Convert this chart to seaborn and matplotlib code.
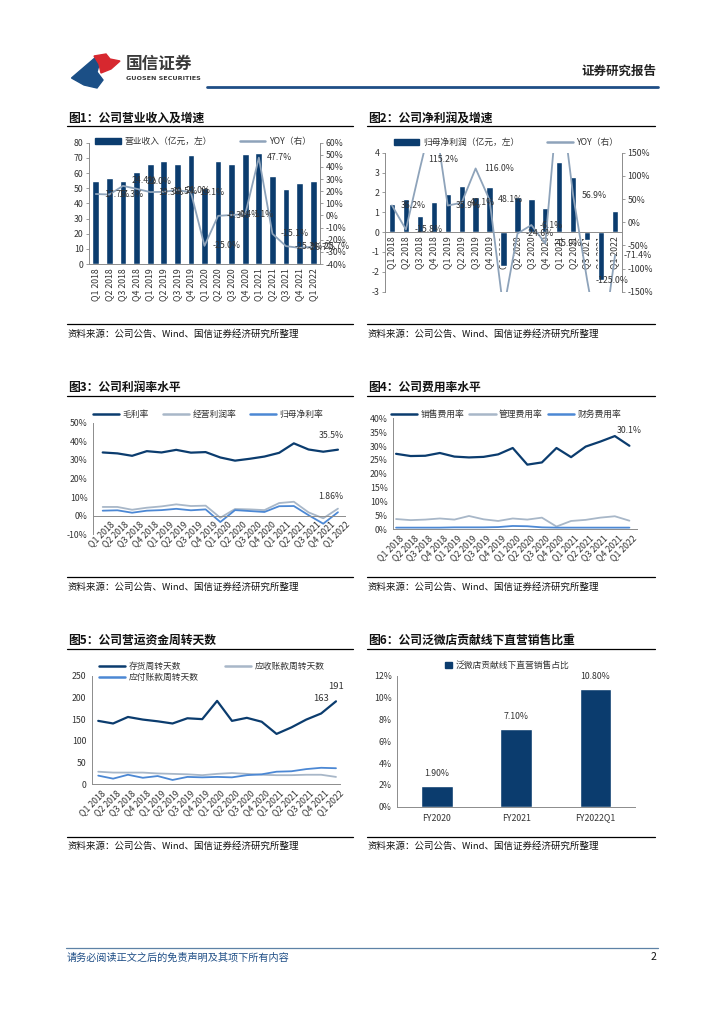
import numpy as np
import pandas as pd
import matplotlib
matplotlib.use("Agg")
import matplotlib.pyplot as plt
import seaborn as sns
from matplotlib.patches import Patch, Polygon
from matplotlib.lines import Line2D
from matplotlib.transforms import ScaledTranslation

# ---------------- data ----------------
quarters = ["Q1 2018", "Q2 2018", "Q3 2018", "Q4 2018", "Q1 2019", "Q2 2019", "Q3 2019", "Q4 2019",
            "Q1 2020", "Q2 2020", "Q3 2020", "Q4 2020", "Q1 2021", "Q2 2021", "Q3 2021", "Q4 2021", "Q1 2022"]
revenue = [55, 57, 54.5, 60.5, 66, 67.8, 66, 71.7, 50, 67.8, 66, 72.5, 73, 58, 49.5, 53.5, 55]
revenue_yoy = [17.7, 17.3, 24.4, 22.0, 19.3, 19.5, 21.0, 19.1, -25.0, -0.3, 0.4, 1.1, 47.7, -15.1,
               -25.3, -26.7, -25.7]
net_profit = [1.43, 1.67, 0.82, 1.52, 1.92, 2.33, 1.78, 2.28, -1.72, 1.77, 1.66, 1.24, 3.55, 2.80,
              -0.38, -2.43, 1.04]
profit_yoy = [36.2, -15.8, 115.2, 240.0, 35.9, 42.1, 116.0, 48.1, -190.0, -24.6, -6.1, -45.9, 300.0,
              56.9, -125.0, -290.0, -71.4]
gross_margin = [34.0, 33.5, 32.2, 34.7, 34.0, 35.4, 33.9, 34.2, 31.3, 29.6, 30.6, 31.8, 33.8, 38.9,
                35.6, 34.4, 35.5]
operating_margin = [4.7, 4.7, 3.2, 4.3, 5.0, 6.1, 5.2, 5.4, -1.1, 3.6, 3.4, 3.0, 6.8, 7.5, 1.8, -1.4, 3.8]
net_margin = [2.7, 2.9, 1.6, 2.7, 3.0, 3.7, 2.9, 3.4, -3.4, 3.0, 2.5, 2.0, 5.1, 5.2, 0.3, -4.3, 1.86]
sales_exp_ratio = [27.2, 26.4, 26.5, 27.5, 26.2, 25.9, 26.1, 27.0, 29.3, 23.3, 24.1, 29.3, 26.0, 29.8,
                   31.6, 33.6, 30.1]
admin_exp_ratio = [3.7, 3.3, 3.5, 3.9, 3.5, 4.8, 3.6, 3.0, 3.9, 3.5, 4.2, 1.0, 3.0, 3.4, 4.2, 4.7, 3.1]
fin_exp_ratio = [0.6, 0.6, 0.6, 0.6, 0.7, 0.7, 0.7, 0.8, 1.2, 1.1, 0.7, 0.6, 0.6, 0.6, 0.6, 0.6, 0.6]
inventory_days = [146, 140, 155, 149, 145, 140, 152, 150, 192, 146, 153, 144, 116, 131, 149, 163, 191]
receivable_days = [29, 27, 27, 27, 25, 24, 23, 21, 24, 26, 24, 22, 21, 21, 22, 22, 17]
payable_days = [20, 13, 22, 15, 19, 10, 17, 16, 17, 16, 21, 23, 29, 30, 35, 38, 37]
fy_labels = ["FY2020", "FY2021", "FY2022Q1"]
store_share = [1.9, 7.1, 10.8]

# ---------------- style ----------------
sns.set_theme(style="white")
plt.rcParams['font.family'] = ['Noto Sans CJK SC', 'DejaVu Sans']
plt.rcParams['axes.unicode_minus'] = False

NAVY = "#0B3C6E"
GREYBLUE = "#8EA3BA"
LIGHTGREY = "#A8B7C8"
MIDBLUE = "#4C88D4"
TXT = "#333333"
SPINE = "#8C8C8C"
FS = 6.3

W, H = 724, 1024
fig = plt.figure(figsize=(W / 100, H / 100), dpi=100)
fig.patch.set_facecolor("white")


def rect(l, t, r, b):
    return [l / W, 1 - b / H, (r - l) / W, (b - t) / H]


def ftext(x, y, s, **kw):
    kw.setdefault("va", "center")
    fig.text(x / W, 1 - y / H, s, **kw)


def hline(x0, x1, y, color="black", lw=0.8):
    fig.add_artist(Line2D([x0 / W, x1 / W], [1 - y / H, 1 - y / H], color=color, lw=lw,
                          transform=fig.transFigure))


def style_ax(ax):
    ax.tick_params(axis="both", labelsize=FS, color=SPINE, labelcolor=TXT, length=2, width=0.6, pad=2)
    for s in ax.spines.values():
        s.set_color(SPINE)
        s.set_linewidth(0.7)
    ax.spines["top"].set_visible(False)
    ax.spines["right"].set_visible(False)
    ax.grid(False)
    ax.set_xlabel("")
    ax.set_ylabel("")
    ax.set_facecolor("none")


def fig_legend(handles, labels, cx, cy, ncol, colsp=2.5, hl=3.0):
    fig.legend(handles, labels, loc="center", bbox_to_anchor=(cx / W, 1 - cy / H), ncol=ncol,
               frameon=False, fontsize=FS, handlelength=hl, handletextpad=0.4, columnspacing=colsp,
               labelcolor=TXT, borderpad=0, borderaxespad=0, labelspacing=0.2)


x = np.arange(len(quarters))

# ---------------- header ----------------
fig.add_artist(Polygon([[71.5 / W, 1 - 78 / H], [96 / W, 1 - 57 / H], [99 / W, 1 - 65 / H], [97 / W, 1 - 72 / H],
                        [103 / W, 1 - 80 / H], [97 / W, 1 - 88 / H], [84 / W, 1 - 85 / H]],
                       closed=True, color="#1B4F86", transform=fig.transFigure))
fig.add_artist(Polygon([[94 / W, 1 - 56 / H], [106 / W, 1 - 54 / H], [110 / W, 1 - 59 / H], [120 / W, 1 - 61 / H],
                        [111 / W, 1 - 69 / H], [101 / W, 1 - 73 / H], [99 / W, 1 - 64 / H]],
                       closed=True, color="#D7282F", transform=fig.transFigure))
ftext(126, 64, "国信证券", fontsize=12, fontweight="bold", color="#3A3A3A")
ftext(126, 79, "GUOSEN SECURITIES", fontsize=4.6, fontweight="bold", color="#3A3A3A",
      family=["DejaVu Sans"])
hline(207, 658, 87, color="#1F4E86", lw=2.0)
ftext(656, 71, "证券研究报告", fontsize=9, fontweight="bold", color="#222222", ha="right")

# titles & sources
for (x0, x1, ty, ly, t) in [(68, 353, 117.7, 125.7, "图1：公司营业收入及增速"),
                            (368, 655, 117.7, 125.7, "图2：公司净利润及增速"),
                            (68, 353, 387.7, 396, "图3：公司利润率水平"),
                            (368, 655, 387.7, 396, "图4：公司费用率水平"),
                            (68, 353, 640, 649, "图5：公司营运资金周转天数"),
                            (368, 655, 640, 649, "图6：公司泛微店贡献线下直营销售比重")]:
    ftext(x0, ty, t, fontsize=8.5, fontweight="bold", color="#111111")
    hline(x0 - 1, x1, ly, lw=0.9)
for (x0, x1, ly, sy) in [(68, 353, 324.3, 334.5), (368, 655, 324.3, 334.5),
                         (68, 353, 576.7, 586.7), (368, 655, 576.7, 586.7),
                         (68, 353, 836.7, 846), (368, 655, 836.7, 846)]:
    hline(x0 - 1, x1, ly, lw=0.9)
    ftext(x0, sy, "资料来源：公司公告、Wind、国信证券经济研究所整理", fontsize=6.8, color="#111111")

# footer
hline(66, 658, 948.3, color="#5E82A6", lw=0.9)
ftext(67, 957.5, "请务必阅读正文之后的免责声明及其项下所有内容", fontsize=7.3, color="#1F4E86", style="italic")
ftext(656, 957.5, "2", fontsize=7.5, color="#111111", ha="right")

# ---------------- chart 1 ----------------
ax1 = fig.add_axes(rect(89, 142.7, 320, 264))
sns.barplot(x=quarters, y=revenue, ax=ax1, color=NAVY, saturation=1, width=0.5)
ax1b = ax1.twinx()
sns.lineplot(x=x, y=revenue_yoy, ax=ax1b, color=GREYBLUE, lw=1.3)
ax1.set_xlim(-0.5, len(quarters) - 0.5)
ax1.set_ylim(0, 80)
ax1.set_yticks(range(0, 81, 10))
ax1b.set_ylim(-40, 60)
ax1b.set_yticks(range(-40, 61, 10))
ax1b.set_yticklabels([f"{v}%" for v in range(-40, 61, 10)])
style_ax(ax1)
style_ax(ax1b)
ax1b.spines["right"].set_visible(True)
ax1b.spines["left"].set_visible(False)
ax1b.spines["bottom"].set_visible(False)
ax1.set_xticks(x)
ax1.set_xticklabels(quarters, rotation=90)
ax1.tick_params(axis="x", length=0, pad=3)
ax1.set_xlabel("")
nudge1 = {2: (6, 4), 3: (7, 5)}
for i, v in enumerate(revenue_yoy):
    dx, dy = nudge1.get(i, (6, 0))
    ax1b.annotate(f"{v:.1f}%", (i, v), xytext=(dx, dy), textcoords="offset points", fontsize=FS,
                  ha="left", va="center", color=TXT)
fig_legend([Patch(color=NAVY), Line2D([], [], color=GREYBLUE, lw=1.8)],
           ["营业收入（亿元，左）", "YOY（右）"], 203, 141.5, 2, colsp=3.2, hl=2.9)

# ---------------- chart 2 ----------------
ax2 = fig.add_axes(rect(385, 152.7, 622, 291.7))
sns.barplot(x=quarters, y=net_profit, ax=ax2, color=NAVY, saturation=1, width=0.45)
ax2b = ax2.twinx()
sns.lineplot(x=x, y=profit_yoy, ax=ax2b, color=GREYBLUE, lw=1.3)
ax2.set_xlim(-0.5, len(quarters) - 0.5)
ax2.set_ylim(-3, 4)
ax2.set_yticks(range(-3, 5))
ax2b.set_ylim(-150, 150)
ax2b.set_yticks(range(-150, 151, 50))
ax2b.set_yticklabels([f"{v}%" for v in range(-150, 151, 50)])
style_ax(ax2)
style_ax(ax2b)
ax2b.spines["right"].set_visible(True)
ax2b.spines["left"].set_visible(False)
ax2b.spines["bottom"].set_visible(False)
ax2.spines["bottom"].set_position(("data", 0))
ax2.set_xticks(x)
ax2.set_xticklabels(quarters, rotation=90)
ax2.tick_params(axis="x", length=0, pad=3)
ax2.set_xlabel("")
nudge2 = {2: (6, 7)}
for i, v in enumerate(profit_yoy):
    if abs(v) > 150:
        continue
    dx, dy = nudge2.get(i, (6, 0))
    ax2b.annotate(f"{v:.1f}%", (i, v), xytext=(dx, dy), textcoords="offset points", fontsize=FS,
                  ha="left", va="center", color=TXT)
fig_legend([Patch(color=NAVY), Line2D([], [], color=GREYBLUE, lw=1.8)],
           ["归母净利润（亿元，左）", "YOY（右）"], 506, 142.7, 2, colsp=3.2, hl=2.9)

# ---------------- chart 3 ----------------
ax3 = fig.add_axes(rect(93.3, 422.7, 345, 534.3))
sns.lineplot(x=x, y=gross_margin, ax=ax3, color=NAVY, lw=1.6)
sns.lineplot(x=x, y=operating_margin, ax=ax3, color=LIGHTGREY, lw=1.3)
sns.lineplot(x=x, y=net_margin, ax=ax3, color=MIDBLUE, lw=1.3)
ax3.set_xlim(-0.64, 16.48)
ax3.set_ylim(-10, 50)
ax3.set_yticks(range(-10, 51, 10))
ax3.set_yticklabels([f"{v}%" for v in range(-10, 51, 10)])
style_ax(ax3)
ax3.spines["bottom"].set_position(("data", 0))
ax3.set_xticks(x)
ax3.set_xticklabels(quarters, rotation=45, ha="right", rotation_mode="anchor")
ax3.tick_params(axis="x", length=0, pad=3)
for lab in ax3.get_xticklabels():
    lab.set_transform(lab.get_transform() + ScaledTranslation(5 / 72, 0, fig.dpi_scale_trans))
ax3.set_xlabel("")
ax3.annotate(f"{gross_margin[-1]:.1f}%", (x[-1], gross_margin[-1]), xytext=(-5, 10),
             textcoords="offset points", fontsize=FS, ha="center", va="center", color=TXT)
ax3.annotate(f"{net_margin[-1]:.2f}%", (x[-1], net_margin[-1]), xytext=(-5, 11),
             textcoords="offset points", fontsize=FS, ha="center", va="center", color=TXT)
fig_legend([Line2D([], [], color=NAVY, lw=1.8), Line2D([], [], color=LIGHTGREY, lw=1.8),
            Line2D([], [], color=MIDBLUE, lw=1.8)],
           ["毛利率", "经营利润率", "归母净利率"], 208, 414.3, 3, colsp=1.6, hl=3.0)

# ---------------- chart 4 ----------------
ax4 = fig.add_axes(rect(393.3, 418.3, 636.7, 529.3))
sns.lineplot(x=x, y=sales_exp_ratio, ax=ax4, color=NAVY, lw=1.6)
sns.lineplot(x=x, y=admin_exp_ratio, ax=ax4, color=LIGHTGREY, lw=1.3)
sns.lineplot(x=x, y=fin_exp_ratio, ax=ax4, color=MIDBLUE, lw=1.3)
ax4.set_xlim(-0.19, 16.5)
ax4.set_ylim(0, 40)
ax4.set_yticks(range(0, 41, 5))
ax4.set_yticklabels([f"{v}%" for v in range(0, 41, 5)])
style_ax(ax4)
ax4.set_xticks(x)
ax4.set_xticklabels(quarters, rotation=45, ha="right", rotation_mode="anchor")
ax4.tick_params(axis="x", length=0, pad=3)
for lab in ax4.get_xticklabels():
    lab.set_transform(lab.get_transform() + ScaledTranslation(2 / 72, 0, fig.dpi_scale_trans))
ax4.set_xlabel("")
ax4.annotate(f"{sales_exp_ratio[-1]:.1f}%", (x[-1], sales_exp_ratio[-1]), xytext=(0, 11),
             textcoords="offset points", fontsize=FS, ha="center", va="center", color=TXT)
fig_legend([Line2D([], [], color=NAVY, lw=1.8), Line2D([], [], color=LIGHTGREY, lw=1.8),
            Line2D([], [], color=MIDBLUE, lw=1.8)],
           ["销售费用率", "管理费用率", "财务费用率"], 506, 414.3, 3, colsp=0.6, hl=3.0)

# ---------------- chart 5 ----------------
ax5 = fig.add_axes(rect(91.7, 675.7, 340, 784.3))
sns.lineplot(x=x, y=inventory_days, ax=ax5, color=NAVY, lw=1.6)
sns.lineplot(x=x, y=receivable_days, ax=ax5, color=LIGHTGREY, lw=1.3)
sns.lineplot(x=x, y=payable_days, ax=ax5, color=MIDBLUE, lw=1.3)
ax5.set_xlim(-0.44, 16.27)
ax5.set_ylim(0, 250)
ax5.set_yticks(range(0, 251, 50))
style_ax(ax5)
ax5.set_xticks(x)
ax5.set_xticklabels(quarters, rotation=45, ha="right", rotation_mode="anchor")
ax5.tick_params(axis="x", length=0, pad=3)
for lab in ax5.get_xticklabels():
    lab.set_transform(lab.get_transform() + ScaledTranslation(2 / 72, 0, fig.dpi_scale_trans))
ax5.set_xlabel("")
for i in (len(x) - 2, len(x) - 1):
    ax5.annotate(f"{inventory_days[i]}", (x[i], inventory_days[i]), xytext=(0, 11),
                 textcoords="offset points", fontsize=FS + 0.5, ha="center", va="center", color=TXT)
fig_legend([Line2D([], [], color=NAVY, lw=1.8), Line2D([], [], color=MIDBLUE, lw=1.8),
            Line2D([], [], color=LIGHTGREY, lw=1.8)],
           ["存货周转天数", "应付账款周转天数", "应收账款周转天数"], 212, 671.7, 2, colsp=3.0, hl=3.0)

# ---------------- chart 6 ----------------
ax6 = fig.add_axes(rect(397.3, 675.7, 635, 806.7))
sns.barplot(x=fy_labels, y=store_share, ax=ax6, color=NAVY, saturation=1, width=0.4)
ax6.set_xlim(-0.5, len(fy_labels) - 0.5)
ax6.set_ylim(0, 12)
ax6.set_yticks(range(0, 13, 2))
ax6.set_yticklabels([f"{v}%" for v in range(0, 13, 2)])
style_ax(ax6)
ax6.set_xticks(np.arange(len(fy_labels)))
ax6.set_xticklabels(fy_labels)
ax6.set_xticks(np.arange(len(fy_labels) + 1) - 0.5, minor=True)
ax6.tick_params(axis="x", which="major", length=0, pad=5)
ax6.tick_params(axis="x", which="minor", length=3, color=SPINE, width=0.6)
ax6.set_xlabel("")
for i, v in enumerate(store_share):
    ax6.annotate(f"{v:.2f}%", (i, v), xytext=(0, 9), textcoords="offset points", fontsize=FS,
                 ha="center", va="center", color=TXT)
fig_legend([Patch(color=NAVY)], ["泛微店贡献线下直营销售占比"], 507, 665.7, 1, hl=0.8)

fig.savefig("out.png", dpi=100, facecolor="white")
